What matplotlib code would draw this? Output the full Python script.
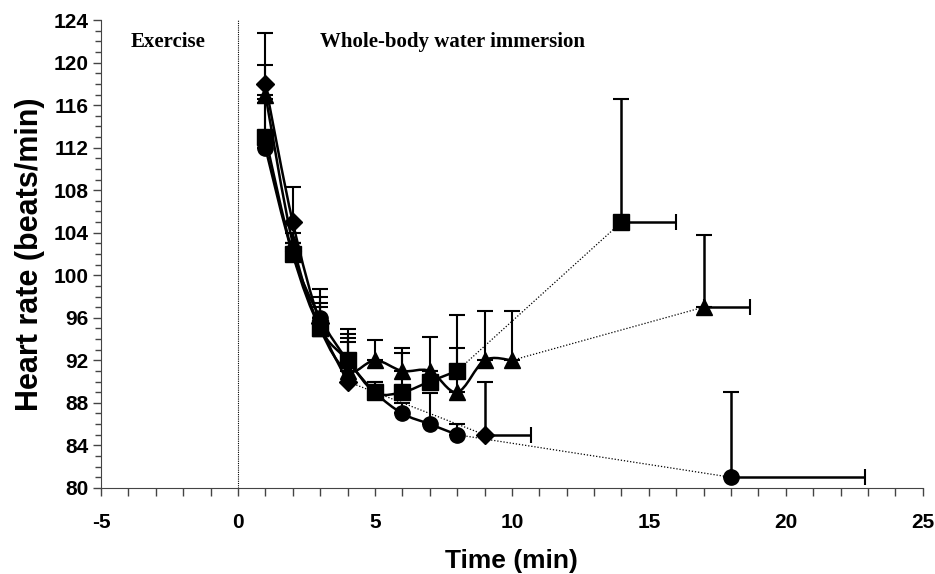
import matplotlib
matplotlib.use("Agg")
import matplotlib.pyplot as plt
from matplotlib.path import Path
from matplotlib.patches import PathPatch
from matplotlib.ticker import MultipleLocator

plt.rcParams["axes.unicode_minus"] = False

# main time points (min) and heart rate values
circle_t = [1, 2, 3, 4, 5, 6, 7, 8]
circle_hr = [112, 102, 96, 92, 89, 87, 86, 85]
circle_err = [4.2, 1.0, 2.0, 2.1, 1.0, 1.0, 2.9, 1.0]

square_t = [1, 2, 3, 4, 5, 6, 7, 8]
square_hr = [113, 102, 95, 92, 89, 89, 90, 91]
square_err = [3.6, 1.0, 2.4, 2.5, 1.0, 3.7, 1.0, 2.2]

triangle_t = [1, 2, 3, 4, 5, 6, 7, 8, 9, 10]
triangle_hr = [117, 103, 95, 91, 92, 91, 91, 89, 92, 92]
triangle_err = [2.8, 1.0, 2.0, 2.7, 1.9, 2.2, 3.2, 7.3, 4.6, 4.6]

diamond_t = [1, 2, 3, 4]
diamond_hr = [118, 105, 95.5, 90]
diamond_err = [4.8, 3.3, 3.2, 4.9]

# end points (time to recovery) with horizontal and vertical error
end_t = {"circle": 18, "square": 14, "triangle": 17, "diamond": 9}
end_hr = {"circle": 81, "square": 105, "triangle": 97, "diamond": 85}
end_xerr = {"circle": 4.9, "square": 2.0, "triangle": 1.7, "diamond": 1.7}
end_yerr = {"circle": 8.0, "square": 11.6, "triangle": 6.8, "diamond": 5.0}


def smooth_path(xs, ys):
    # excel-like smoothed line, bezier segments built from the points
    verts = [(xs[0], ys[0])]
    codes = [Path.MOVETO]
    n = len(xs)
    for i in range(n - 1):
        x0, y0 = xs[max(i - 1, 0)], ys[max(i - 1, 0)]
        x1, y1 = xs[i], ys[i]
        x2, y2 = xs[i + 1], ys[i + 1]
        x3, y3 = xs[min(i + 2, n - 1)], ys[min(i + 2, n - 1)]
        verts.append((x1 + (x2 - x0) / 6, y1 + (y2 - y0) / 6))
        verts.append((x2 - (x3 - x1) / 6, y2 - (y3 - y1) / 6))
        verts.append((x2, y2))
        codes += [Path.CURVE4] * 3
    return Path(verts, codes)


fig = plt.figure(figsize=(9.35, 5.74), dpi=100)
ax = fig.add_axes([0.108, 0.150, 0.879, 0.815])

series = [
    ("circle", circle_t, circle_hr, circle_err, "o"),
    ("square", square_t, square_hr, square_err, "s"),
    ("triangle", triangle_t, triangle_hr, triangle_err, "^"),
    ("diamond", diamond_t, diamond_hr, diamond_err, "D"),
]

for name, t, hr, err, mk in series:
    ax.add_patch(PathPatch(smooth_path(t, hr), fill=False, edgecolor="black",
                           lw=1.8, zorder=3))
    # dotted link from last measured point to the end point
    ax.plot([t[-1], end_t[name]], [hr[-1], end_hr[name]], color="black",
            linestyle=(0, (1, 1.5)), lw=0.9, zorder=2)
    ax.errorbar(t, hr, yerr=[[0] * len(err), err], fmt="none", ecolor="black",
                elinewidth=1.5, capsize=6, capthick=1.5, zorder=2)
    ax.errorbar([end_t[name]], [end_hr[name]], xerr=[[0], [end_xerr[name]]],
                yerr=[[0], [end_yerr[name]]], fmt="none", ecolor="black",
                elinewidth=1.8, capsize=6, capthick=1.5, zorder=2)
    ms = 9 if mk == "D" else 11
    ax.plot(t + [end_t[name]], hr + [end_hr[name]], linestyle="none", marker=mk,
            color="black", markersize=ms, zorder=4)

# exercise / immersion boundary
ax.axvline(0, color="black", linestyle=(0, (1, 1)), lw=0.8)

ax.text(-3.9, 121.9, "Exercise", family="Liberation Serif", fontweight="bold",
        fontsize=15, va="center")
ax.text(3.0, 121.9, "Whole-body water immersion", family="Liberation Serif",
        fontweight="bold", fontsize=15, va="center")

ax.set_xlim(-5, 25)
ax.set_ylim(80, 124)
ax.xaxis.set_major_locator(MultipleLocator(5))
ax.xaxis.set_minor_locator(MultipleLocator(1))
ax.yaxis.set_major_locator(MultipleLocator(4))
ax.yaxis.set_minor_locator(MultipleLocator(1))
ax.tick_params(which="both", direction="out", width=1, color="#444444")
ax.tick_params(which="major", length=6)
ax.tick_params(axis="x", which="minor", length=6)
ax.tick_params(axis="y", which="minor", length=4)
ax.tick_params(axis="x", pad=12)
ax.tick_params(axis="y", pad=3)

for lab in ax.get_xticklabels() + ax.get_yticklabels():
    lab.set_family("Liberation Sans")
    lab.set_fontweight("bold")
    lab.set_fontsize(15)

ax.spines["top"].set_visible(False)
ax.spines["right"].set_visible(False)
ax.spines["left"].set_color("#444444")
ax.spines["bottom"].set_color("#444444")

ax.set_xlabel("Time (min)", family="Liberation Sans", fontweight="bold",
              fontsize=19, labelpad=12)
ax.set_ylabel("Heart rate (beats/min)", family="Liberation Sans",
              fontweight="bold", fontsize=22, labelpad=6)

fig.savefig("out.png", dpi=100)
